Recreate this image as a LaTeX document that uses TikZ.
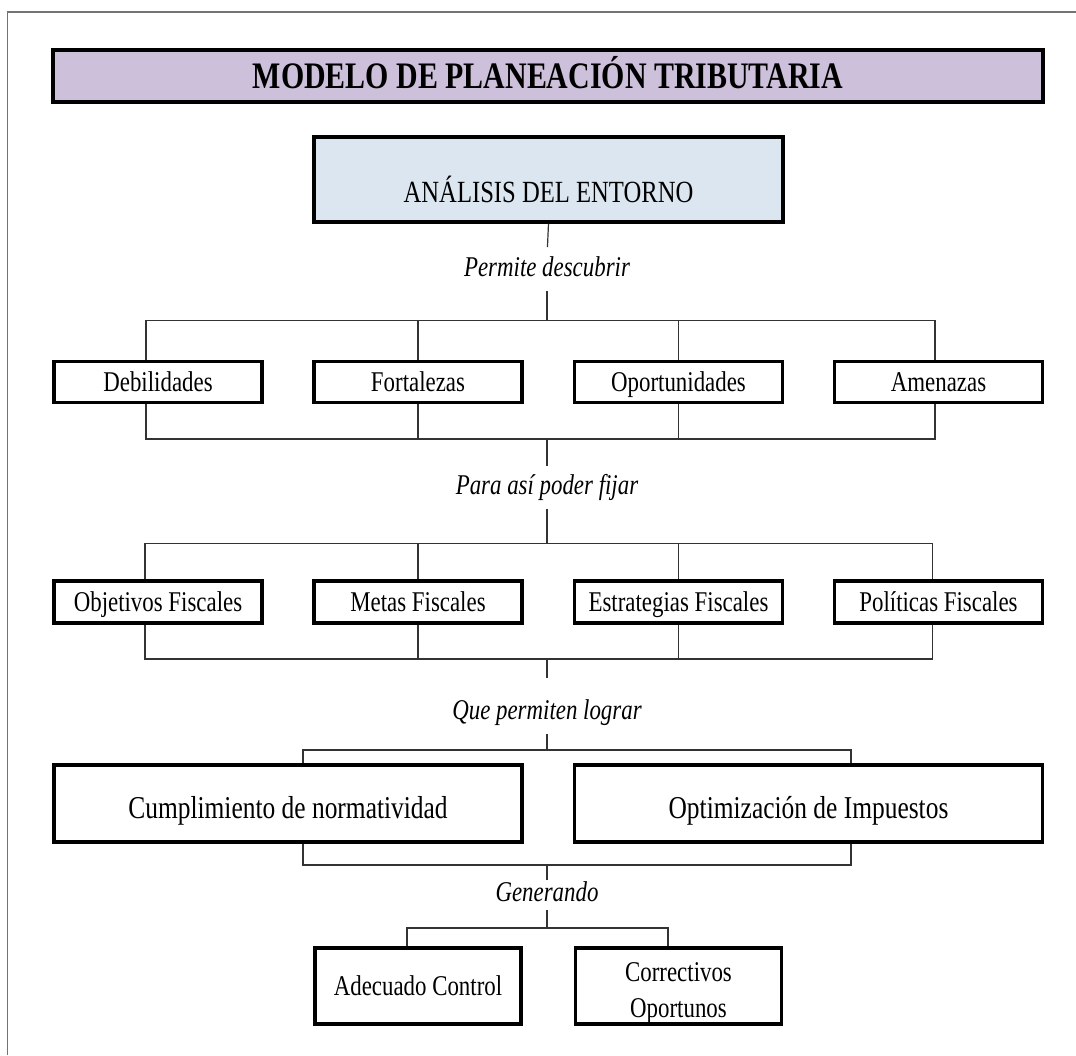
\documentclass[tikz,border=0pt]{standalone}
\usepackage{fontspec}
\setmainfont{Liberation Serif}[FakeStretch=0.8]
\usepackage{xcolor}
\usepackage{tikz}
\usetikzlibrary{calc}

\definecolor{lila}{HTML}{CCC0DA}
\definecolor{celeste}{HTML}{DCE6F1}

\begin{document}
\begin{tikzpicture}[x=0.5pt,y=-0.5pt,
  box/.style={draw,line width=1.6pt,inner sep=0pt,minimum width=104pt,minimum height=20.5pt,
              text height=11.4pt,text depth=2pt,font=\fontsize{14.3}{18}\selectfont},
  bigbox/.style={box,minimum width=234pt,minimum height=38.5pt,text height=16.5pt,text depth=2pt,
                 font=\fontsize{15.9}{18}\selectfont},
  lbl/.style={inner sep=0pt,text height=9.5pt,text depth=3pt,font=\fontsize{14.3}{16}\selectfont\itshape},
  conn/.style={draw=black!80,line width=0.6pt}]
\useasboundingbox (0,0) rectangle (1076,1055);
\draw[black!55,line width=0.7pt] (1076,12) -- (7.6,12) -- (7.6,1055);

% titulo
\node[draw,line width=1.6pt,fill=lila,inner sep=0pt,minimum width=495pt,minimum height=26pt,
      text height=14pt,text depth=1.7pt,font=\fontsize{18.7}{20}\selectfont\bfseries] (T) at (548,76) {MODELO DE PLANEACIÓN TRIBUTARIA};
\node[draw,line width=1.6pt,fill=celeste,inner sep=0pt,minimum width=234.5pt,minimum height=42.5pt,
      text height=24pt,text depth=1.5pt,font=\fontsize{15.4}{18}\selectfont] (A) at (548.5,179.5) {ANÁLISIS DEL ENTORNO};

% etiquetas
\node[lbl] (L1) at (547,270) {Permite descubrir};
\node[lbl] (L2) at (547,488) {Para así poder fijar};
\node[lbl] (L3) at (547,713) {Que permiten lograr};
\node[lbl] (L4) at (547,895) {Generando};

% fila 1
\node[box] (D) at (158,382)   {Debilidades};
\node[box] (F) at (418,382)   {Fortalezas};
\node[box] (O) at (678.5,382) {Oportunidades};
\node[box] (M) at (938.5,382) {Amenazas};

% fila 2
\node[box,minimum height=21pt] (OF) at (158,602)   {Objetivos Fiscales};
\node[box,minimum height=21pt] (MF) at (418,602)   {Metas Fiscales};
\node[box,minimum height=21pt] (EF) at (678.5,602) {Estrategias Fiscales};
\node[box,minimum height=21pt] (PF) at (938.5,602) {Políticas Fiscales};

% fila 3
\node[bigbox] (CN) at (288,803.5)   {Cumplimiento de normatividad};
\node[bigbox] (OI) at (808.5,803.5) {Optimización de Impuestos};

% fila 4
\node[box,minimum width=103pt,minimum height=38pt] (AC) at (418,986) {Adecuado Control};
\node[box,minimum width=103pt,minimum height=38pt,text height=34pt,text depth=2.5pt,align=center] (CO) at (678.5,986) {Correctivos\\Oportunos};

% llaves
\coordinate (a1) at (146,320.7);  \coordinate (b1) at (935,320.7);
\coordinate (c1) at (146,439);    \coordinate (d1) at (935,439);
\coordinate (a2) at (145,543.4);  \coordinate (b2) at (932.5,543.4);
\coordinate (c2) at (145,659);    \coordinate (d2) at (932.5,659);
\coordinate (a3) at (303,750);    \coordinate (b3) at (851,750);
\coordinate (c3) at (303,865);    \coordinate (d3) at (851,865);
\coordinate (a4) at (407,928);    \coordinate (b4) at (668,928);

\path[conn]
  (D.north -| a1) -- (a1) -- (b1) -- (M.north -| b1)
  (F.north) -- (F.north |- a1)
  (O.north) -- (O.north |- a1)
  (D.south -| c1) -- (c1) -- (d1) -- (M.south -| d1)
  (F.south) -- (F.south |- c1)
  (O.south) -- (O.south |- c1)
  (OF.north -| a2) -- (a2) -- (b2) -- (PF.north -| b2)
  (MF.north) -- (MF.north |- a2)
  (EF.north) -- (EF.north |- a2)
  (OF.south -| c2) -- (c2) -- (d2) -- (PF.south -| d2)
  (MF.south) -- (MF.south |- c2)
  (EF.south) -- (EF.south |- c2)
  (CN.north -| a3) -- (a3) -- (b3) -- (OI.north -| b3)
  (CN.south -| c3) -- (c3) -- (d3) -- (OI.south -| d3)
  (AC.north -| a4) -- (a4) -- (b4) -- (CO.north -| b4);

\path[conn]
  (A.south) edge[shorten >=5pt] (L1.north)
  (L1.south) edge[shorten <=4pt] (L1.south |- a1)
  (L1.south |- c1) edge[shorten >=4.5pt] (L2.north)
  (L2.south) edge[shorten <=4pt] (L2.south |- a2)
  (L2.south |- c2) edge[shorten >=11pt] (L3.north)
  (L3.south) edge[shorten <=4pt] (L3.south |- a3)
  (L3.south |- c3) edge[shorten >=1pt] (L4.north)
  (L4.south) edge[shorten <=1pt] (L4.south |- a4);
\end{tikzpicture}
\end{document}
